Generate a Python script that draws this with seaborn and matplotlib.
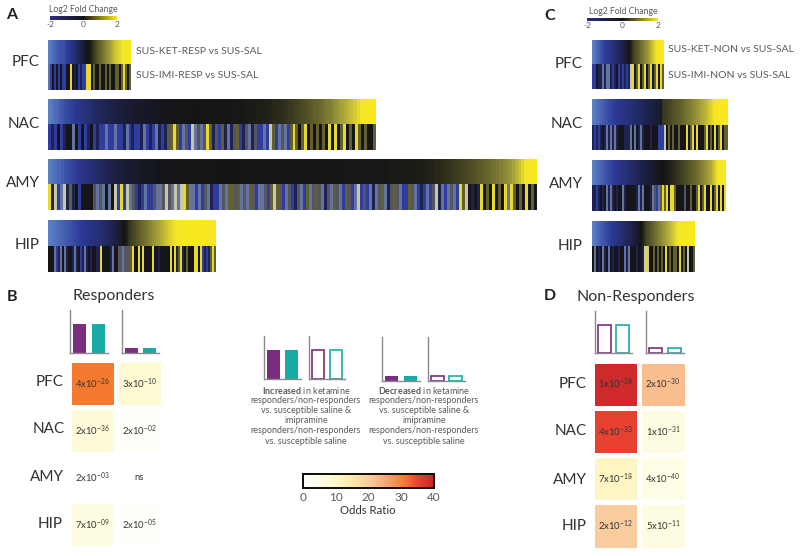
import numpy as np
import matplotlib
matplotlib.use('Agg')
import matplotlib.pyplot as plt
import seaborn as sns
from matplotlib.cm import ScalarMappable
from matplotlib.colors import LinearSegmentedColormap, ListedColormap, Normalize

# sorted log2 fold change, top row of each block
grad_a_pfc = [-2.0, -1.9, -1.8, -1.7, -1.6, -1.5, -1.45, -1.4, -1.3, -1.2, -1.1, -1.0, -0.9, -0.8, -0.7, -0.55, -0.4, -0.25, -0.1, 0.0,
              0.1, 0.25, 0.4, 0.5, 0.6, 0.7, 0.8, 0.9, 1.0, 1.1, 1.2, 1.3, 1.4, 1.5, 1.6, 1.7, 1.8, 1.85, 1.9, 2.0]
grad_a_nac = [-2.0, -1.88, -1.76, -1.64, -1.52, -1.4, -1.32, -1.24, -1.16, -1.08, -1.0, -0.94, -0.88, -0.82, -0.76, -0.7, -0.65, -0.6, -0.55, -0.5,
              -0.46, -0.42, -0.38, -0.35, -0.32, -0.29, -0.26, -0.23, -0.2, -0.18, -0.16, -0.14, -0.12, -0.1, -0.09, -0.08, -0.07, -0.06, -0.05, -0.04,
              -0.03, -0.03, -0.02, -0.02, -0.01, -0.01, 0, 0, 0, 0, 0, 0, 0, 0, 0.01, 0.01, 0.02, 0.02, 0.03, 0.03,
              0.04, 0.05, 0.06, 0.07, 0.08, 0.09, 0.1, 0.12, 0.14, 0.16, 0.18, 0.2, 0.23, 0.26, 0.3, 0.34, 0.38, 0.42, 0.46, 0.5,
              0.55, 0.6, 0.65, 0.7, 0.76, 0.82, 0.88, 0.95, 1.02, 1.1, 1.18, 1.26, 1.34, 1.42, 1.5, 1.6, 1.7, 1.8, 1.9, 2.0, 2.0]
grad_a_amy = [-2.0, -1.9, -1.8, -1.7, -1.6, -1.5, -1.42, -1.34, -1.26, -1.18, -1.1, -1.04, -0.98, -0.92, -0.86, -0.8, -0.74, -0.68, -0.62, -0.56,
              -0.5, -0.46, -0.42, -0.38, -0.34, -0.3, -0.27, -0.24, -0.21, -0.18, -0.16, -0.14, -0.12, -0.1, -0.09, -0.08, -0.07, -0.06, -0.05, -0.04,
              -0.03, -0.03, -0.03, -0.03, -0.03, -0.03, -0.02, -0.02, -0.02, -0.02, -0.02, -0.02, -0.02, -0.02, -0.01, -0.01, -0.01, -0.01, -0.01, -0.01,
              -0.01, -0.01, 0, 0, 0, 0, 0, 0, 0, 0, 0, 0, 0, 0, 0, 0, 0, 0, 0, 0,
              0, 0, 0, 0, 0, 0, 0.01, 0.01, 0.01, 0.01, 0.01, 0.01, 0.01, 0.01, 0.02, 0.02, 0.02, 0.02, 0.02, 0.02,
              0.02, 0.02, 0.03, 0.03, 0.03, 0.03, 0.03, 0.03, 0.04, 0.04, 0.04, 0.04, 0.05, 0.05, 0.05, 0.05,
              0.06, 0.07, 0.08, 0.09, 0.1, 0.12, 0.14, 0.16, 0.18, 0.2, 0.22, 0.25, 0.28, 0.31, 0.34, 0.37, 0.4, 0.43, 0.46, 0.5,
              0.54, 0.58, 0.62, 0.66, 0.7, 0.75, 0.8, 0.85, 0.9, 0.96, 1.02, 1.1, 1.2, 1.3, 1.42, 1.55, 1.7, 1.85, 1.95, 2.0]
grad_a_hip = [-2.0, -1.95, -1.9, -1.85, -1.8, -1.75, -1.7, -1.65, -1.6, -1.55, -1.5, -1.45, -1.4, -1.35, -1.3, -1.25, -1.2, -1.16, -1.12, -1.08,
              -1.04, -1.0, -0.97, -0.94, -0.91, -0.88, -0.85, -0.8, -0.75, -0.7, -0.65, -0.6, -0.52, -0.44, -0.36, -0.28, -0.18, -0.08, 0.0, 0.1,
              0.25, 0.35, 0.42, 0.48, 0.54, 0.6, 0.66, 0.72, 0.78, 0.84, 0.9, 0.96, 1.02, 1.08, 1.14, 1.2, 1.26, 1.32, 1.38, 1.44,
              1.5, 1.56, 1.62, 1.68, 1.74, 1.8, 1.84, 1.88, 1.92, 1.95, 1.98, 2.0, 2.0, 2.0, 2.0, 2.0, 2.0, 2.0, 1.95, 1.9, 1.9, 1.9, 1.9, 1.9]
grad_c_pfc = [-2.0, -1.85, -1.7, -1.58, -1.46, -1.35, -1.25, -1.15, -1.08, -1.0, -0.92, -0.84, -0.76, -0.68, -0.6, -0.5, -0.38, -0.22, -0.05, 0.12,
              0.3, 0.44, 0.54, 0.64, 0.74, 0.84, 0.94, 1.04, 1.16, 1.3, 1.44, 1.6, 1.78, 1.92, 2.0, 2.0]
grad_c_nac = [-2.0, -1.92, -1.84, -1.76, -1.68, -1.6, -1.52, -1.44, -1.38, -1.32, -1.26, -1.2, -1.15, -1.1, -1.06, -1.02, -0.98, -0.95, -0.92, -0.88,
              -0.84, -0.8, -0.76, -0.72, -0.68, -0.64, -0.6, -0.56, -0.52, -0.48, -0.44, -0.4, -0.35, -0.3, -0.2, 0.3, 0.34, 0.38, 0.42, 0.46,
              0.5, 0.54, 0.58, 0.62, 0.66, 0.7, 0.75, 0.8, 0.85, 0.9, 0.95, 1.0, 1.06, 1.12, 1.18, 1.24, 1.3, 1.38, 1.46, 1.54,
              1.62, 1.72, 1.82, 1.9, 1.96, 2.0, 2.0, 2.0]
grad_c_amy = [-2.0, -1.92, -1.84, -1.76, -1.68, -1.6, -1.52, -1.44, -1.38, -1.32, -1.26, -1.2, -1.14, -1.08, -1.03, -0.98, -0.93, -0.88, -0.83, -0.78,
              -0.73, -0.68, -0.63, -0.58, -0.53, -0.48, -0.43, -0.38, -0.33, -0.28, -0.23, -0.18, -0.12, -0.07, -0.03, 0.0, 0.03, 0.06, 0.1, 0.14,
              0.18, 0.22, 0.26, 0.3, 0.35, 0.4, 0.45, 0.5, 0.55, 0.6, 0.65, 0.7, 0.76, 0.82, 0.88, 0.94, 1.0, 1.08, 1.16, 1.26,
              1.36, 1.5, 1.65, 1.8, 1.9, 1.96, 2.0]
grad_c_hip = [-2.0, -1.9, -1.8, -1.7, -1.6, -1.52, -1.44, -1.36, -1.28, -1.2, -1.13, -1.06, -1.0, -0.94, -0.88, -0.82, -0.76, -0.7, -0.62, -0.54,
              -0.46, -0.36, -0.26, -0.14, -0.02, 0.12, 0.26, 0.38, 0.46, 0.54, 0.62, 0.7, 0.78, 0.86, 0.94, 1.02, 1.1, 1.18, 1.26, 1.34,
              1.42, 1.5, 1.6, 1.7, 1.8, 1.88, 1.94, 1.98, 2.0, 2.0, 2.0, 2.0]

# second row, colour class of each stripe
strip_a_pfc = [3, 2, 0, 2, 0, 2, 0, 2, 2, 0, 0, 5, 0, 1, 0, 2, 1, 2, 2, 5, 5, 0, 4, 0, 0, 4, 0, 0, 4, 0, 4, 0, 0, 4, 4, 0, 4, 5, 4, 0, 4]
strip_a_nac = [2, 1, 2, 0, 2, 1, 0, 0, 3, 0, 2, 0, 2, 1, 0, 2, 1, 2, 2, 3, 2, 2, 3, 2, 2, 1, 3, 2, 1, 2, 2, 1, 3, 2, 1, 2, 3, 1, 2, 1,
               7, 4, 5, 4, 2, 3, 7, 2, 6, 3, 7, 3, 7, 5, 4, 1, 7, 2, 4, 1, 3, 1, 7, 4, 2, 1, 7, 3, 1, 7, 2, 2, 3, 2, 6, 4, 2, 3, 7, 3,
               2, 4, 5, 4, 0, 4, 5, 0, 4, 0, 4, 0, 4, 0, 5, 0, 5, 0, 4, 5, 0, 4, 0, 5, 4, 0, 4, 0, 0, 4]
strip_a_amy = [5, 1, 6, 2, 3, 6, 1, 4, 1, 0, 2, 0, 0, 0, 0, 7, 3, 7, 3, 0, 3, 0, 6, 2, 5, 2, 6, 3, 7, 2, 1, 2, 3, 2, 2, 7, 3, 3, 7, 6,
               7, 3, 6, 3, 6, 5, 4, 3, 3, 2, 3, 2, 7, 3, 1, 2, 2, 3, 7, 3, 4, 4, 7, 4, 3, 7, 3, 4, 7, 2, 3, 3, 7, 2, 4, 6, 4, 7, 2, 3,
               7, 2, 1, 7, 3, 2, 4, 3, 7, 4, 7, 3, 1, 7, 3, 4, 7, 3, 2, 4, 7, 2, 3, 6, 2, 7, 2, 3, 1, 3, 7, 4, 3, 1, 7, 4, 7, 3, 2, 2,
               4, 7, 3, 2, 1, 2, 3, 2, 7, 6, 1, 3, 2, 3, 7, 3, 2, 5, 4, 6, 0, 1, 0, 1, 5, 0, 4, 0, 5, 0, 4, 0, 5, 3, 5, 4, 0, 4, 0, 5, 0, 4, 0]
strip_a_hip = [0, 0, 0, 3, 2, 1, 3, 0, 3, 1, 0, 0, 1, 3, 1, 0, 2, 1, 3, 1, 0, 1, 0, 0, 1, 1, 5, 0, 0, 0, 0, 1, 3, 0, 0, 7, 7, 3, 7, 7,
               7, 4, 5, 0, 0, 5, 0, 5, 0, 0, 0, 0, 5, 0, 0, 1, 0, 0, 0, 0, 0, 5, 0, 5, 1, 4, 5, 1, 0, 4, 0, 0, 0, 5, 5, 0, 5, 2, 1, 2, 1, 4, 5, 4]
strip_c_pfc = [2, 2, 0, 1, 1, 3, 1, 3, 3, 1, 2, 1, 0, 2, 1, 2, 1, 2, 1, 6, 5, 0, 4, 5, 0, 4, 5, 0, 4, 5, 0, 4, 5, 0, 5, 4]
strip_c_nac = [1, 2, 1, 2, 1, 0, 1, 3, 1, 3, 1, 3, 1, 0, 0, 0, 1, 1, 1, 3, 0, 3, 0, 1, 3, 1, 0, 0, 0, 1, 0, 0, 0, 2, 2, 2, 6, 0, 4, 0,
               4, 0, 0, 4, 0, 0, 0, 5, 0, 4, 5, 0, 5, 0, 0, 0, 4, 5, 0, 4, 0, 5, 0, 4, 5, 0, 4, 4]
strip_c_amy = [1, 1, 2, 1, 0, 1, 0, 3, 1, 3, 1, 0, 1, 0, 0, 3, 1, 0, 0, 0, 0, 0, 1, 3, 1, 3, 0, 0, 0, 1, 3, 7, 2, 3, 4, 5, 4, 5, 0, 5,
               5, 4, 0, 0, 0, 0, 7, 0, 0, 4, 0, 0, 4, 5, 0, 4, 5, 0, 0, 5, 0, 4, 5, 0, 5, 0, 5]
strip_c_hip = [0, 3, 0, 1, 0, 3, 1, 0, 3, 0, 1, 0, 0, 1, 0, 0, 3, 1, 3, 0, 0, 0, 1, 0, 0, 1, 6, 5, 6, 0, 0, 4, 0, 4, 0, 4, 0, 5, 0, 4,
               0, 4, 4, 0, 5, 0, 4, 0, 6, 0, 0, 4]

regions = ['PFC', 'NAC', 'AMY', 'HIP']
odds_resp = [[31, 8], [7, 1], [0.3, 0.2], [6, 1]]
p_resp = [['4x10$^{-26}$', '3x10$^{-10}$'], ['2x10$^{-36}$', '2x10$^{-02}$'],
          ['2x10$^{-03}$', 'ns'], ['7x10$^{-09}$', '2x10$^{-05}$']]
odds_non = [[39, 22], [35, 6], [11, 5], [20, 6]]
p_non = [['1x10$^{-38}$', '2x10$^{-30}$'], ['4x10$^{-33}$', '1x10$^{-31}$'],
         ['7x10$^{-18}$', '4x10$^{-40}$'], ['2x10$^{-12}$', '5x10$^{-11}$']]
bar_groups = ['ketamine', 'imipramine']
bars_up = [67, 67]
bars_down = [12, 11]

text_col = '#333333'
sub_col = '#5a5a5a'
bar_cols = ['#7b2d80', '#1aaaa6']
W, H = 800, 556

sns.set_theme(style='white')
plt.rcParams['font.family'] = ['Lato', 'DejaVu Sans']
plt.rcParams['mathtext.fontset'] = 'custom'
plt.rcParams['mathtext.rm'] = 'Lato'
plt.rcParams['mathtext.bf'] = 'Lato:bold'
plt.rcParams['mathtext.default'] = 'rm'

grad_cmap = LinearSegmentedColormap.from_list('grad', [
    (0.0, '#5b7fc4'), (0.2, '#2c3a98'), (0.375, '#1c2148'), (0.5, '#141414'),
    (0.625, '#4f4e26'), (0.8, '#a8a43c'), (0.925, '#f3e52a'), (1.0, '#f8e81f')])
strip_cmap = ListedColormap(['#15151a', '#1e2250', '#303da0', '#65749f',
                             '#62602e', '#e8d92a', '#c8c8a8', '#55555f'])
key_cmap = LinearSegmentedColormap.from_list('key', ['#2a2a84', '#141414', '#f8e81f'])
odds_cmap = LinearSegmentedColormap.from_list('odds', [
    (0.0, '#ffffff'), (0.125, '#fefde6'), (0.25, '#fdf8c8'), (0.4, '#fbe3a8'), (0.5, '#f9cd9f'),
    (0.625, '#f8a878'), (0.775, '#f47b30'), (0.875, '#ea4230'), (1.0, '#c8252b')])

fig = plt.figure(figsize=(8, 5.56), dpi=100)


def px_axes(x0, y0, x1, y1):
    return fig.add_axes([x0 / W, 1 - y1 / H, (x1 - x0) / W, (y1 - y0) / H])


def label(x, y, s, size, **kw):
    kw.setdefault('color', text_col)
    kw.setdefault('ha', 'center')
    kw.setdefault('va', 'center')
    fig.text(x / W, 1 - y / H, s, fontsize=size, **kw)


def block(x0, x1, y0, ym, y1, grad, strip):
    ax = px_axes(x0, y0, x1, ym)
    sns.heatmap([grad], ax=ax, cmap=grad_cmap, vmin=-2, vmax=2, cbar=False, xticklabels=False, yticklabels=False)
    ax = px_axes(x0, ym, x1, y1)
    sns.heatmap([strip], ax=ax, cmap=strip_cmap, vmin=-0.5, vmax=7.5, cbar=False, xticklabels=False, yticklabels=False)


def key(x0, x1, y0, y1, title_y, title_x):
    cax = px_axes(x0, y0, x1, y1)
    cb = fig.colorbar(ScalarMappable(Normalize(-2, 2), key_cmap), cax=cax, orientation='horizontal')
    cb.set_ticks([-2, 0, 2], labels=['-2', '0', '2'])
    cb.ax.tick_params(length=0, pad=0.5, labelsize=6, labelcolor=sub_col)
    cb.outline.set_visible(False)
    label(title_x, title_y, 'Log2 Fold Change', 6.2, color=sub_col)


def bars(x0, x1, y0, y1, vals, filled):
    ax = px_axes(x0, y0, x1, y1)
    sns.barplot(x=bar_groups, y=vals, hue=bar_groups, palette=bar_cols, ax=ax, legend=False, width=0.68,
                fill=filled, saturation=1, linewidth=0 if filled else 1.2)
    ax.set_xlim(-0.5, 1.5)
    ax.set_ylim(0, 100)
    ax.set_xticks([])
    ax.set_yticks([])
    ax.set_xlabel('')
    ax.set_ylabel('')
    ax.patch.set_alpha(0)
    sns.despine(ax=ax)
    for s in ['left', 'bottom']:
        ax.spines[s].set_color('#8a8a8a')
        ax.spines[s].set_linewidth(1)


def odds_map(x0, x1, y0, y1, vals, ann, cbar_ax=None):
    ax = px_axes(x0, y0, x1, y1)
    sns.heatmap(np.array(vals), ax=ax, cmap=odds_cmap, vmin=0, vmax=40, annot=np.array(ann), fmt='',
                annot_kws={'size': 6.8, 'color': text_col}, linewidths=2.4, linecolor='white',
                cbar=cbar_ax is not None, cbar_ax=cbar_ax, cbar_kws={'orientation': 'horizontal'},
                xticklabels=False, yticklabels=False)
    return ax


# A
label(12, 15, 'A', 11.5, fontweight='bold', color='#222222')
key(50, 117, 16, 20, 10, 83)
block(48, 131, 39.5, 64, 90, grad_a_pfc, strip_a_pfc)
block(48, 376, 99, 124, 150, grad_a_nac, strip_a_nac)
block(48, 537, 159, 184, 210, grad_a_amy, strip_a_amy)
block(48, 216, 220, 246, 272, grad_a_hip, strip_a_hip)
for name, y in zip(regions, [62, 124, 183, 245]):
    label(40, y, name, 11, ha='right')
label(136, 52, 'SUS-KET-RESP vs SUS-SAL', 7.5, ha='left', color=sub_col)
label(136, 76, 'SUS-IMI-RESP vs SUS-SAL', 7.5, ha='left', color=sub_col)

# C
label(550, 16, 'C', 11.5, fontweight='bold', color='#222222')
key(587, 658, 18, 21, 12, 623)
block(592, 664, 40, 64, 89, grad_c_pfc, strip_c_pfc)
block(592, 728, 99.5, 125, 150, grad_c_nac, strip_c_nac)
block(592, 726, 160, 185, 211, grad_c_amy, strip_c_amy)
block(592, 695, 221, 246, 272, grad_c_hip, strip_c_hip)
for name, y in zip(regions, [64, 124, 184, 246]):
    label(583, y, name, 11, ha='right')
label(668, 50, 'SUS-KET-NON vs SUS-SAL', 7.5, ha='left', color=sub_col)
label(668, 76, 'SUS-IMI-NON vs SUS-SAL', 7.5, ha='left', color=sub_col)

# B
label(12, 297, 'B', 11.5, fontweight='bold', color='#222222')
label(114, 296, 'Responders', 11.5)
bars(70, 108, 310, 353, bars_up, True)
bars(122, 159, 310, 353, bars_down, True)
cbar_ax = px_axes(303, 474, 434, 488)
odds_map(68.5, 162.5, 360.25, 548, odds_resp, p_resp, cbar_ax=cbar_ax)
for name, y, x in zip(regions, [382, 429, 477, 524], [64, 65, 64, 63]):
    label(x, y, name, 11, ha='right')

# D
label(550, 296, 'D', 11.5, fontweight='bold', color='#222222')
label(636, 297, 'Non-Responders', 11.5)
bars(595, 632, 311, 353, bars_up, False)
bars(646, 684, 311, 353, bars_down, False)
odds_map(591.5, 686.5, 360.5, 549.5, odds_non, p_non)
for name, y in zip(regions, [384, 431, 480, 526]):
    label(587, y, name, 11, ha='right')

# middle key
bars(264, 301, 336, 379, bars_up, True)
bars(309, 345, 336, 379, bars_up, False)
bars(382, 420, 337, 381, bars_down, True)
bars(428, 465, 337, 381, bars_down, False)
lines_common = ['responders/non-responders', 'vs. susceptible saline &', 'imipramine',
                'responders/non-responders', 'vs. susceptible saline']
for cx, word in [(306, 'Increased'), (424, 'Decreased')]:
    label(cx, 390, r'$\mathbf{' + word + r'}$ in ketamine', 6.5, color=sub_col)
    for i, line in enumerate(lines_common):
        label(cx, 400.2 + i * 10.2, line, 6.5, color=sub_col)

cbar_ax.tick_params(length=0, pad=3, labelsize=8.5, labelcolor=sub_col)
cbar_ax.set_xticks([0, 10, 20, 30, 40])
for s in cbar_ax.spines.values():
    s.set_visible(True)
    s.set_color('#111111')
    s.set_linewidth(1.4)
label(368, 511, 'Odds Ratio', 8.2)

fig.savefig('out.png', dpi=100)
